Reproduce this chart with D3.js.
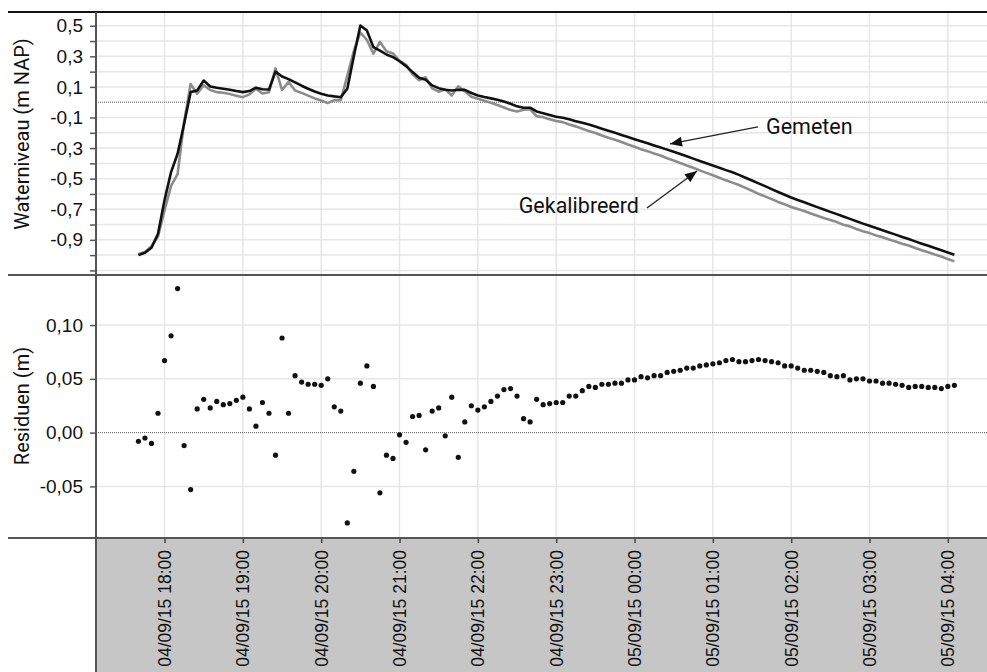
<!DOCTYPE html>
<html>
<head>
<meta charset="utf-8">
<script src="https://cdn.jsdelivr.net/npm/d3@7"></script>
<style>
  body { margin: 0; background: #fff; }
  svg { display: block; font-family: Roboto, "DejaVu Sans", sans-serif; }
</style>
</head>
<body>
<div id="Chart"></div>
<script>
// metingen elke 5 minuten, 04/09/15 17:40 t/m 05/09/15 04:05
var startTijd = new Date(2015, 8, 4, 17, 40),
    eindTijd = new Date(2015, 8, 5, 4, 5);

var gemeten = [-1.000,-0.985,-0.952,-0.860,-0.640,-0.457,-0.337,-0.141,0.066,0.077,0.142,0.103,0.095,0.088,0.081,0.073,0.066,0.073,0.095,0.085,
  0.083,0.200,0.168,0.151,0.130,0.108,0.088,0.070,0.055,0.044,0.038,0.033,0.088,0.300,0.502,0.469,0.360,0.338,0.312,0.295,
  0.268,0.236,0.197,0.160,0.147,0.110,0.092,0.081,0.077,0.081,0.081,0.060,0.044,0.034,0.025,0.016,0.005,-0.010,-0.027,-0.036,
  -0.036,-0.060,-0.072,-0.084,-0.095,-0.102,-0.112,-0.124,-0.135,-0.146,-0.159,-0.173,-0.187,-0.200,-0.214,-0.228,-0.242,-0.255,-0.269,-0.283,
  -0.296,-0.310,-0.324,-0.339,-0.354,-0.369,-0.384,-0.399,-0.414,-0.429,-0.444,-0.458,-0.475,-0.494,-0.512,-0.531,-0.549,-0.568,-0.587,-0.605,
  -0.623,-0.639,-0.654,-0.670,-0.686,-0.701,-0.717,-0.732,-0.748,-0.763,-0.779,-0.794,-0.808,-0.823,-0.837,-0.852,-0.866,-0.881,-0.895,-0.910,
  -0.925,-0.939,-0.954,-0.968,-0.983,-0.997];

var gekalibreerd = [-0.992,-0.980,-0.942,-0.878,-0.707,-0.547,-0.471,-0.129,0.119,0.055,0.111,0.080,0.066,0.062,0.054,0.043,0.033,0.051,0.089,0.057,
  0.065,0.221,0.080,0.133,0.077,0.061,0.043,0.025,0.011,-0.006,0.014,0.013,0.172,0.336,0.456,0.407,0.317,0.394,0.333,0.319,
  0.270,0.245,0.182,0.144,0.163,0.090,0.069,0.084,0.044,0.104,0.071,0.035,0.023,0.010,-0.004,-0.018,-0.035,-0.051,-0.061,-0.049,
  -0.046,-0.091,-0.098,-0.111,-0.123,-0.130,-0.146,-0.158,-0.174,-0.189,-0.201,-0.218,-0.232,-0.246,-0.260,-0.277,-0.291,-0.307,-0.320,-0.336,
  -0.349,-0.366,-0.381,-0.397,-0.414,-0.429,-0.446,-0.462,-0.478,-0.494,-0.511,-0.526,-0.541,-0.560,-0.579,-0.599,-0.616,-0.634,-0.652,-0.667,
  -0.685,-0.699,-0.712,-0.728,-0.743,-0.757,-0.770,-0.784,-0.801,-0.812,-0.829,-0.844,-0.856,-0.871,-0.883,-0.898,-0.911,-0.925,-0.937,-0.953,
  -0.968,-0.981,-0.996,-1.009,-1.026,-1.041];

var residuen = [-0.008,-0.005,-0.010,0.018,0.067,0.090,0.134,-0.012,-0.053,0.022,0.031,0.023,0.029,0.026,0.027,0.030,0.033,0.022,0.006,0.028,
  0.018,-0.021,0.088,0.018,0.053,0.047,0.045,0.045,0.044,0.050,0.024,0.020,-0.084,-0.036,0.046,0.062,0.043,-0.056,-0.021,-0.024,
  -0.002,-0.009,0.015,0.016,-0.016,0.020,0.023,-0.003,0.033,-0.023,0.010,0.025,0.021,0.024,0.029,0.034,0.040,0.041,0.034,0.013,
  0.010,0.031,0.026,0.027,0.028,0.028,0.034,0.034,0.039,0.043,0.042,0.045,0.045,0.046,0.046,0.049,0.049,0.052,0.051,0.053,
  0.053,0.056,0.057,0.058,0.060,0.060,0.062,0.063,0.064,0.065,0.067,0.068,0.066,0.066,0.067,0.068,0.067,0.066,0.065,0.062,
  0.062,0.060,0.058,0.058,0.057,0.056,0.053,0.052,0.053,0.049,0.050,0.050,0.048,0.048,0.046,0.046,0.045,0.044,0.042,0.043,
  0.043,0.042,0.042,0.041,0.043,0.044];

var niveauTicks = [-1.1,-1.0,-0.9,-0.8,-0.7,-0.6,-0.5,-0.4,-0.3,-0.2,-0.1,0.1,0.2,0.3,0.4,0.5];
var niveauLabels = [-0.9,-0.7,-0.5,-0.3,-0.1,0.1,0.3,0.5];
var residuTicks = [-0.05, 0, 0.05, 0.10];

// labels met pijl: tekstpositie, pijlstaart (t0,v0) en pijlpunt (t1,v1)
var annotaties = [
  {tekst: "Gemeten", anchor: "start",
   t: new Date(2015, 8, 5, 1, 40, 44), v: -0.208,
   t0: new Date(2015, 8, 5, 1, 34, 34), v0: -0.162,
   t1: new Date(2015, 8, 5, 0, 27, 10), v1: -0.273},
  {tekst: "Gekalibreerd", anchor: "end",
   t: new Date(2015, 8, 5, 0, 3, 26), v: -0.7245,
   t0: new Date(2015, 8, 5, 0, 9, 32), v0: -0.692,
   t1: new Date(2015, 8, 5, 0, 47, 53), v1: -0.450}
];

var tijden = d3.timeMinutes(startTijd, d3.timeMinute.offset(eindTijd, 1), 5);

var width = 987, height = 672,
    left = 96, right = 987,
    top1 = 12, bot1 = 275, bot2 = 538;

var nl = d3.formatLocale({decimal: ",", thousands: ".", grouping: [3], currency: ["€", ""], minus: "-"});
var f1 = nl.format(".1f"), f2 = nl.format(".2f");
var tijdFormat = d3.timeFormat("%d/%m/%y %H:%M");

var svg = d3.select("#Chart")
            .append("svg")
            .attr("width", width)
            .attr("height", height);

var x = d3.scaleTime()
          .domain([new Date(2015, 8, 4, 17, 7, 30), new Date(2015, 8, 5, 4, 30)])
          .range([left, right]);
var yTop = d3.scaleLinear().domain([-1.13, 0.59]).range([bot1, top1]);
var yBot = d3.scaleLinear().domain([-0.098, 0.1466]).range([bot2, bot1]);

var uren = x.ticks(d3.timeHour.every(1));

// grijze band voor de tijdas
svg.append("rect")
   .attr("x", left).attr("y", bot2)
   .attr("width", right - left).attr("height", height - bot2)
   .attr("fill", "#c6c6c6");

// rasterlijnen
var grid = svg.append("g").attr("stroke", "#e6e6e6").attr("stroke-width", 1.5);
grid.selectAll(".vgrid")
    .data(uren)
    .enter().append("line")
    .attr("x1", d => x(d)).attr("x2", d => x(d))
    .attr("y1", top1).attr("y2", bot2);
grid.selectAll(".hgrid1")
    .data(niveauTicks)
    .enter().append("line")
    .attr("x1", left).attr("x2", right)
    .attr("y1", d => yTop(d)).attr("y2", d => yTop(d));
grid.selectAll(".hgrid2")
    .data(residuTicks.filter(d => d !== 0))
    .enter().append("line")
    .attr("x1", left).attr("x2", right)
    .attr("y1", d => yBot(d)).attr("y2", d => yBot(d));

// nullijnen gestippeld
[yTop(0), yBot(0)].forEach(function(y0){
  svg.append("line")
     .attr("x1", left).attr("x2", right)
     .attr("y1", y0).attr("y2", y0)
     .attr("stroke", "#555").attr("stroke-width", 1)
     .attr("stroke-dasharray", "1,1");
});

// waterniveau lijnen
var lijn = d3.line().x((d, i) => x(tijden[i])).y(d => yTop(d));
svg.append("path")
   .datum(gekalibreerd)
   .attr("fill", "none")
   .attr("stroke", "#8c8c8c")
   .attr("stroke-width", 2.6)
   .attr("stroke-linejoin", "round")
   .attr("d", lijn);
svg.append("path")
   .datum(gemeten)
   .attr("fill", "none")
   .attr("stroke", "#111")
   .attr("stroke-width", 2.6)
   .attr("stroke-linejoin", "round")
   .attr("d", lijn);

// residuen als punten
svg.selectAll(".res")
   .data(residuen)
   .enter().append("circle")
   .attr("class", "res")
   .attr("cx", (d, i) => x(tijden[i]))
   .attr("cy", d => yBot(d))
   .attr("r", 2.6)
   .attr("fill", "#111");

// pijlen en labels
svg.append("defs").append("marker")
   .attr("id", "pijl")
   .attr("viewBox", "0 0 12 10")
   .attr("refX", 12).attr("refY", 5)
   .attr("markerWidth", 13).attr("markerHeight", 10)
   .attr("markerUnits", "userSpaceOnUse")
   .attr("orient", "auto")
   .append("path")
   .attr("d", "M0,0 L12,5 L0,10 Z")
   .attr("fill", "#111");

annotaties.forEach(function(a){
  svg.append("line")
     .attr("x1", x(a.t0)).attr("y1", yTop(a.v0))
     .attr("x2", x(a.t1)).attr("y2", yTop(a.v1))
     .attr("stroke", "#222").attr("stroke-width", 1.3)
     .attr("marker-end", "url(#pijl)");
  svg.append("text")
     .attr("x", x(a.t)).attr("y", yTop(a.v))
     .attr("text-anchor", a.anchor)
     .attr("font-size", 21.5)
     .attr("fill", "#111")
     .text(a.tekst);
});

// y-assen
var asTop = svg.append("g")
   .attr("transform", "translate(" + left + ",0)")
   .call(d3.axisLeft(yTop).tickValues(niveauTicks).tickSize(6)
           .tickFormat(d => niveauLabels.some(v => Math.abs(v - d) < 1e-9) ? f1(d) : ""));
var asBot = svg.append("g")
   .attr("transform", "translate(" + left + ",0)")
   .call(d3.axisLeft(yBot).tickValues(residuTicks).tickSize(6).tickFormat(f2));

[asTop, asBot].forEach(function(g){
  g.select(".domain").remove();
  g.selectAll(".tick line").attr("stroke", "#555").attr("stroke-width", 1.5);
  g.selectAll(".tick text").attr("font-size", 19).attr("fill", "#111")
   .attr("font-family", null).attr("x", -13);
});

// tijdas in de grijze band
var asX = svg.append("g")
   .attr("transform", "translate(0," + bot2 + ")")
   .call(d3.axisBottom(x).tickValues(uren).tickSize(5).tickFormat(tijdFormat));
asX.select(".domain").remove();
asX.selectAll(".tick line").attr("stroke", "#444").attr("stroke-width", 1.5);
asX.selectAll(".tick text")
   .attr("font-family", null)
   .attr("font-size", 17.5)
   .attr("fill", "#111")
   .attr("transform", "rotate(-90)")
   .attr("text-anchor", "end")
   .attr("x", -12).attr("y", 0)
   .attr("dy", "0.35em");

// kaderlijnen
svg.append("line").attr("x1", 8).attr("x2", right).attr("y1", top1).attr("y2", top1)
   .attr("stroke", "#111").attr("stroke-width", 2);
[bot1, bot2].forEach(function(y0){
  svg.append("line").attr("x1", 8).attr("x2", right).attr("y1", y0).attr("y2", y0)
     .attr("stroke", "#555").attr("stroke-width", 2);
});
svg.append("line").attr("x1", left).attr("x2", left).attr("y1", top1).attr("y2", height)
   .attr("stroke", "#555").attr("stroke-width", 2);

// astitels
svg.append("text")
   .attr("transform", "translate(29,134) rotate(-90)")
   .attr("text-anchor", "middle")
   .attr("font-size", 20)
   .attr("fill", "#111")
   .text("Waterniveau (m NAP)");
svg.append("text")
   .attr("transform", "translate(29,406) rotate(-90)")
   .attr("text-anchor", "middle")
   .attr("font-size", 20)
   .attr("fill", "#111")
   .text("Residuen (m)");
</script>
</body>
</html>
